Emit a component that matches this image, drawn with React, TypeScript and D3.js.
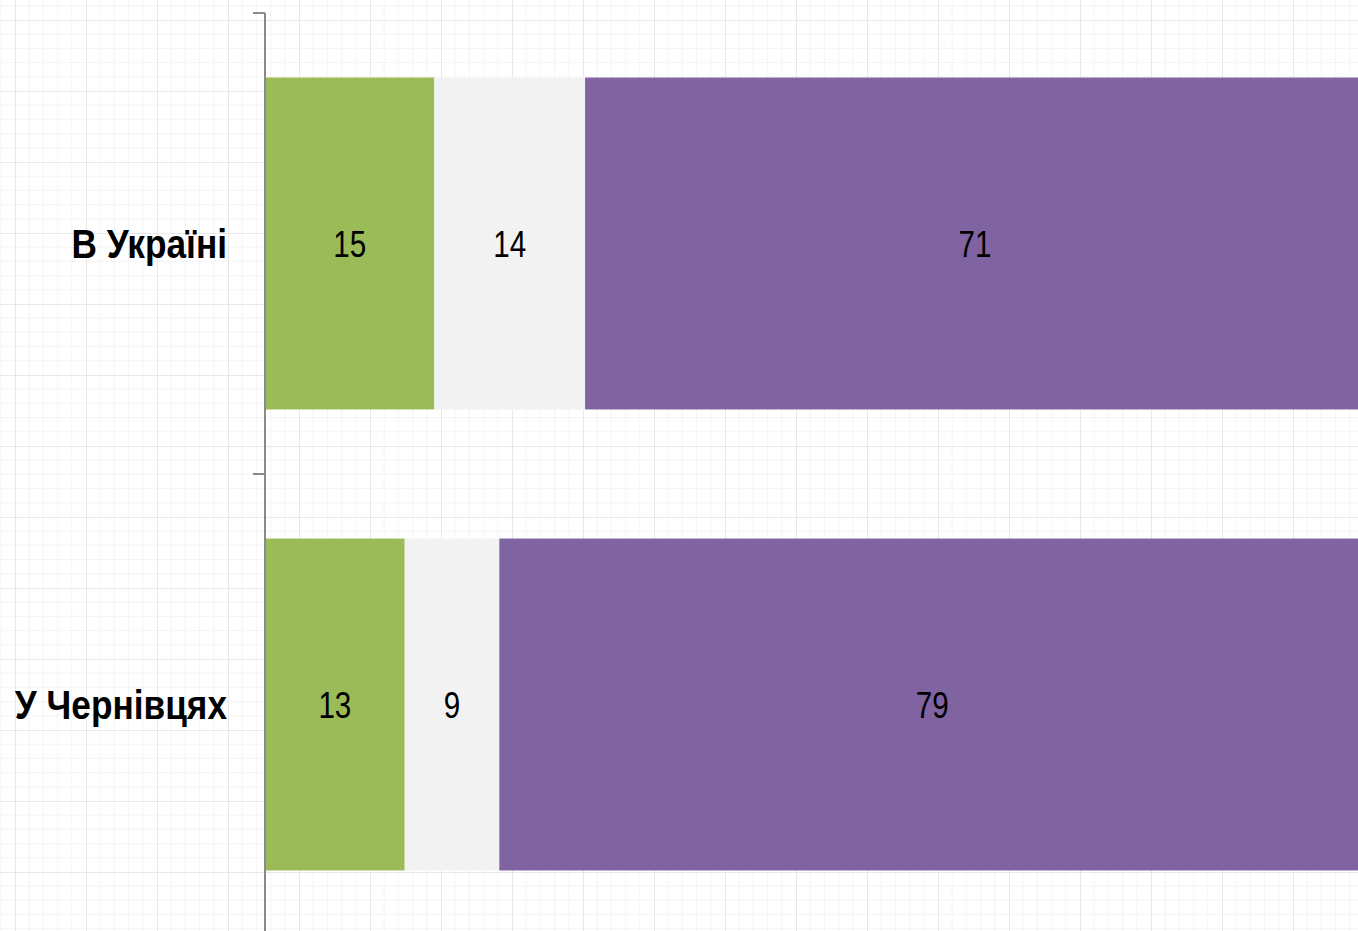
import React, { useEffect, useRef } from "react";
import * as d3 from "d3";

// categories (top to bottom)
const categories = ["В Україні", "У Чернівцях"];
// series, in stack order (left to right)
const seriesKeys = ["yes", "hard", "no"];
const seriesColors = ["#9BBB59", "#F2F2F2", "#8064A2"];
// values in percent
const yesValues = [15.4, 12.7];
const hardValues = [13.7, 8.6];
const noValues = [70.9, 78.7];

const App: React.FC = () => {
  const svgRef = useRef<SVGSVGElement | null>(null);

  useEffect(() => {
    if (!svgRef.current) return;
    const width = 1358;
    const height = 931;
    const axisX = 265;
    const bandTop = 13;
    const bandBottom = 935;
    const font = "'Liberation Sans', Arial, sans-serif";

    const rows = categories.map((c, i) => ({
      category: c,
      yes: yesValues[i],
      hard: hardValues[i],
      no: noValues[i],
    }));

    const x = d3.scaleLinear().domain([0, 100]).range([axisX, axisX + 1100]);
    const y = d3
      .scaleBand<string>()
      .domain(categories)
      .range([bandTop, bandBottom])
      .paddingInner(0.28)
      .paddingOuter(0.14);

    const stack = d3.stack<any>().keys(seriesKeys);
    const stacked = stack(rows);

    const svg = d3
      .select(svgRef.current)
      .attr("width", width)
      .attr("height", height)
      .attr("viewBox", [0, 0, width, height]);

    // graph paper background
    const defs = svg.append("defs");
    const minor = 14.2;
    const major = minor * 5;
    const pat = defs
      .append("pattern")
      .attr("id", "grid")
      .attr("patternUnits", "userSpaceOnUse")
      .attr("x", 15)
      .attr("y", 20)
      .attr("width", major)
      .attr("height", major);
    pat.append("rect").attr("width", major).attr("height", major).attr("fill", "#ffffff");
    for (let k = 1; k < 5; k++) {
      pat
        .append("line")
        .attr("x1", k * minor).attr("x2", k * minor)
        .attr("y1", 0).attr("y2", major)
        .attr("stroke", "#f5f5f5").attr("stroke-width", 1);
      pat
        .append("line")
        .attr("y1", k * minor).attr("y2", k * minor)
        .attr("x1", 0).attr("x2", major)
        .attr("stroke", "#f5f5f5").attr("stroke-width", 1);
    }
    pat.append("line").attr("x1", 0.5).attr("x2", 0.5).attr("y1", 0).attr("y2", major)
      .attr("stroke", "#e8e8e8").attr("stroke-width", 1);
    pat.append("line").attr("y1", 0.5).attr("y2", 0.5).attr("x1", 0).attr("x2", major)
      .attr("stroke", "#e8e8e8").attr("stroke-width", 1);
    svg.append("rect").attr("width", width).attr("height", height).attr("fill", "url(#grid)");

    // bars
    const groups = svg
      .append("g")
      .selectAll("g")
      .data(stacked)
      .join("g")
      .attr("fill", (_, i) => seriesColors[i]);

    groups
      .selectAll("rect")
      .data((d) => d.map((p) => ({ p, cat: p.data.category as string })))
      .join("rect")
      .attr("x", (d) => x(d.p[0]))
      .attr("y", (d) => y(d.cat)!)
      .attr("width", (d) => x(d.p[1]) - x(d.p[0]))
      .attr("height", y.bandwidth());

    // value labels (condensed look)
    groups
      .selectAll("text")
      .data((d) => d.map((p) => ({ p, cat: p.data.category as string })))
      .join("text")
      .attr(
        "transform",
        (d) =>
          `translate(${(x(d.p[0]) + x(d.p[1])) / 2},${y(d.cat)! + y.bandwidth() / 2}) scale(0.8,1)`
      )
      .attr("dy", "0.36em")
      .attr("text-anchor", "middle")
      .attr("fill", "#000")
      .attr("font-family", font)
      .attr("font-size", 37)
      .text((d) => Math.round(d.p[1] - d.p[0]));

    // axis
    const axis = svg.append("g");
    axis
      .append("line")
      .attr("x1", axisX).attr("x2", axisX)
      .attr("y1", bandTop).attr("y2", height)
      .attr("stroke", "#8a8a8a").attr("stroke-width", 2);
    const tickYs = d3.range(categories.length + 1).map((i) => bandTop + i * y.step());
    axis
      .selectAll("line.tick")
      .data(tickYs)
      .join("line")
      .attr("class", "tick")
      .attr("x1", axisX - 12).attr("x2", axisX)
      .attr("y1", (d) => d).attr("y2", (d) => d)
      .attr("stroke", "#8a8a8a").attr("stroke-width", 2);

    axis
      .selectAll("text")
      .data(categories)
      .join("text")
      .attr("transform", (d) => `translate(227,${y(d)! + y.bandwidth() / 2}) scale(0.86,1)`)
      .attr("dy", "0.36em")
      .attr("text-anchor", "end")
      .attr("fill", "#000")
      .attr("font-family", font)
      .attr("font-weight", "bold")
      .attr("font-size", 41)
      .text((d) => d);

    return () => {
      svg.selectAll("*").remove();
    };
  }, []);

  return (
    <svg
      ref={svgRef}
      style={{ position: "absolute", left: 0, top: 0, display: "block" }}
    ></svg>
  );
};

export default App;
